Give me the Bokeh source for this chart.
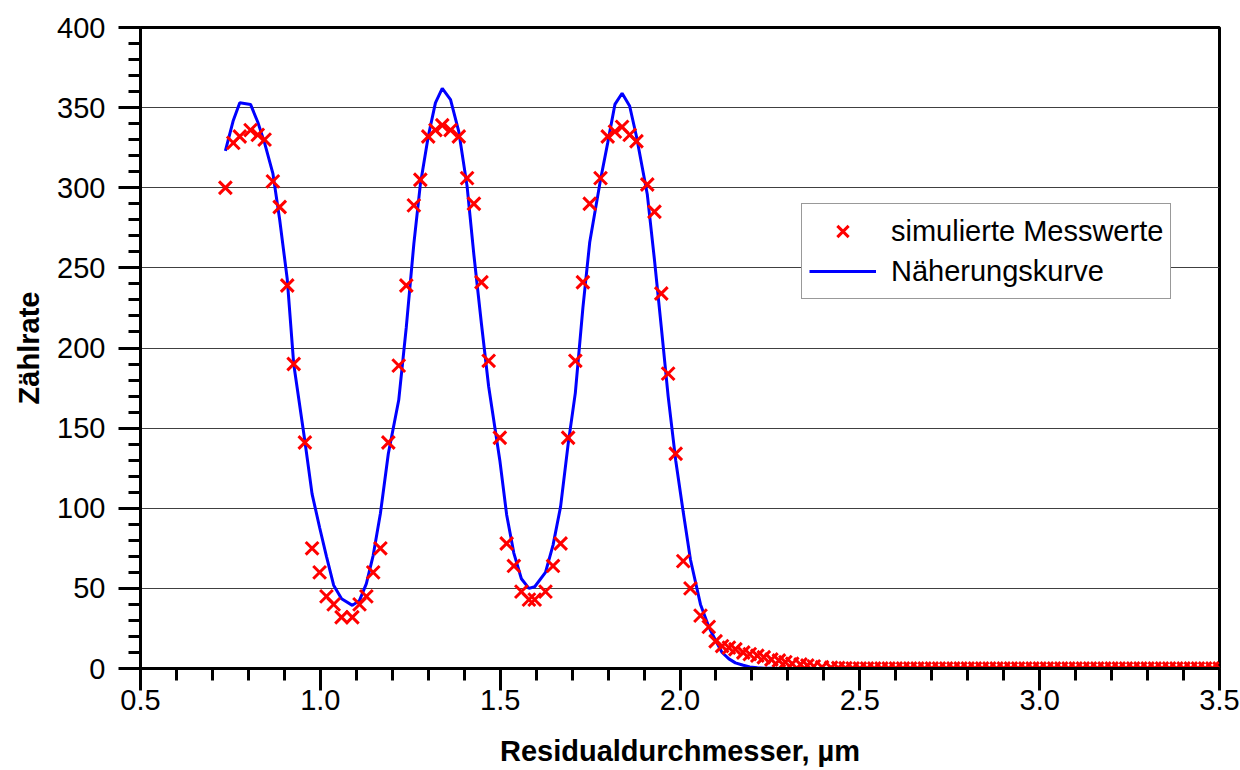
from bokeh.plotting import figure
from bokeh.models import (Range1d, SingleIntervalTicker, PrintfTickFormatter,
                          Legend, LegendItem, ColumnDataSource)
from bokeh.embed import file_html
from bokeh.resources import INLINE

# ---------------- data ----------------
diameter_head = [0.736, 0.758, 0.776, 0.806, 0.826, 0.845, 0.868, 0.887, 0.908, 0.926,
                 0.957, 0.977, 0.998, 1.017, 1.037, 1.059, 1.089, 1.109, 1.128, 1.147, 1.167,
                 1.189, 1.218, 1.239, 1.260, 1.278, 1.300, 1.320, 1.339, 1.362, 1.385, 1.408,
                 1.427, 1.448, 1.468,
                 1.499, 1.518, 1.538, 1.559, 1.580, 1.596, 1.626, 1.647, 1.668,
                 1.689, 1.709, 1.730, 1.749, 1.779, 1.799, 1.819, 1.839, 1.860, 1.879,
                 1.909, 1.929, 1.948, 1.967, 1.988,
                 2.009, 2.029, 2.057, 2.080, 2.099, 2.117, 2.136, 2.154, 2.176, 2.194,
                 2.215, 2.233, 2.254, 2.275, 2.293, 2.312, 2.335, 2.354, 2.372, 2.395]

diameter_tail = [2.42, 2.44, 2.46, 2.48, 2.50, 2.52, 2.54, 2.56, 2.58, 2.60,
                 2.62, 2.64, 2.66, 2.68, 2.70, 2.72, 2.74, 2.76, 2.78, 2.80,
                 2.82, 2.84, 2.86, 2.88, 2.90, 2.92, 2.94, 2.96, 2.98, 3.00,
                 3.02, 3.04, 3.06, 3.08, 3.10, 3.12, 3.14, 3.16, 3.18, 3.20,
                 3.22, 3.24, 3.26, 3.28, 3.30, 3.32, 3.34, 3.36, 3.38, 3.40,
                 3.42, 3.44, 3.46, 3.48, 3.50]

counts_sim_head = [300, 328, 332, 336, 333, 330, 304, 288, 239, 190,
                   141, 75, 60, 45, 40, 32, 32, 40, 45, 60, 75,
                   141, 189, 239, 289, 305, 332, 336, 339, 336, 332, 306, 290, 241, 192,
                   144, 78, 64, 48, 43, 43, 48, 64, 78,
                   144, 192, 241, 290, 306, 332, 335, 338, 333, 329, 302, 285, 234, 184, 134,
                   67, 50, 33, 26, 17, 14, 13, 12, 10, 9, 8, 7, 5.6, 5, 4, 3, 2.5, 1.9, 1.3, 0.8]

counts_sim_tail = [0.5, 0.3, 0.2, 0.1, 0, 0, 0, 0, 0, 0,
                   0, 0, 0, 0, 0, 0, 0, 0, 0, 0,
                   0, 0, 0, 0, 0, 0, 0, 0, 0, 0,
                   0, 0, 0, 0, 0, 0, 0, 0, 0, 0,
                   0, 0, 0, 0, 0, 0, 0, 0, 0, 0,
                   0, 0, 0, 0, 0]

counts_fit_head = [323, 342, 353, 352, 341, 328, 309, 280, 243, 190,
                   142, 109, 88, 70, 52, 43.5, 39.4, 42.5, 53, 70.6, 96.7,
                   134, 167.5, 213, 265, 302, 332, 353, 362, 355, 335, 301, 258, 215, 176,
                   130, 96, 72, 56, 50, 51, 60, 77, 101,
                   140, 172, 225, 266, 305, 328, 352, 359, 351, 332, 296, 255, 213, 170, 130,
                   97.6, 68, 40, 26, 17.5, 10, 6, 3.5, 2, 1, 0.4, 0.2, 0.1, 0, 0, 0, 0, 0, 0, 0]

counts_fit_tail = [0, 0, 0, 0, 0, 0, 0, 0, 0, 0,
                   0, 0, 0, 0, 0, 0, 0, 0, 0, 0,
                   0, 0, 0, 0, 0, 0, 0, 0, 0, 0,
                   0, 0, 0, 0, 0, 0, 0, 0, 0, 0,
                   0, 0, 0, 0, 0, 0, 0, 0, 0, 0,
                   0, 0, 0, 0, 0]

x_label = "Residualdurchmesser, µm"
y_label = "Zählrate"
legend_labels = ["simulierte Messwerte", "Näherungskurve"]

source = ColumnDataSource(data=dict(
    d=diameter_head + diameter_tail,
    sim=counts_sim_head + counts_sim_tail,
    fit=counts_fit_head + counts_fit_tail,
))

FONT = "Liberation Sans"
FS = "29px"

p = figure(width=1240, height=770, output_backend="svg", toolbar_location=None,
           x_range=Range1d(0.5, 3.5), y_range=Range1d(0, 400),
           min_border_left=140, min_border_right=21, min_border_top=27,
           min_border_bottom=102)
p.background_fill_color = "white"
p.border_fill_color = "white"
p.outline_line_color = "black"
p.outline_line_width = 3

p.xgrid.visible = False
p.ygrid.grid_line_color = "#404040"
p.ygrid.grid_line_width = 1

p.xaxis.ticker = SingleIntervalTicker(interval=0.5, num_minor_ticks=5)
p.xaxis.formatter = PrintfTickFormatter(format="%.1f")
p.yaxis.ticker = SingleIntervalTicker(interval=50, num_minor_ticks=5)

for ax in (p.xaxis[0], p.yaxis[0]):
    ax.axis_line_width = 3
    ax.axis_line_color = "black"
    ax.major_tick_out = 22
    ax.major_tick_in = 0
    ax.minor_tick_out = 12
    ax.minor_tick_in = 0
    ax.major_tick_line_width = 3
    ax.minor_tick_line_width = 3
    ax.major_tick_line_color = "black"
    ax.minor_tick_line_color = "black"
    ax.major_label_text_font = FONT
    ax.major_label_text_font_size = FS
    ax.major_label_text_color = "black"
    ax.axis_label_text_font = FONT
    ax.axis_label_text_font_size = FS
    ax.axis_label_text_font_style = "bold"
    ax.axis_label_text_color = "black"

p.xaxis.axis_label = x_label
p.yaxis.axis_label = y_label
p.xaxis.major_label_standoff = -1
p.yaxis.major_label_standoff = 13
p.xaxis.axis_label_standoff = 22
p.yaxis.axis_label_standoff = 9

fit_r = p.line("d", "fit", source=source, line_color="#0000FF", line_width=3)
sim_r = p.scatter("d", "sim", source=source, marker="x", size=18,
                  line_color="#FF0000", line_width=3)

legend = Legend(items=[LegendItem(label=legend_labels[0], renderers=[sim_r]),
                       LegendItem(label=legend_labels[1], renderers=[fit_r])],
                location=(661, 369))
legend.border_line_color = "#333333"
legend.border_line_width = 1
legend.background_fill_color = "white"
legend.background_fill_alpha = 1.0
legend.padding = 7
legend.spacing = 0
legend.margin = 0
legend.glyph_width = 67
legend.glyph_height = 40
legend.label_height = 40
legend.label_width = 272
legend.label_standoff = 15
legend.label_text_font = FONT
legend.label_text_font_size = FS
legend.label_text_color = "black"
p.add_layout(legend)

open("out.html", "w").write(file_html(p, INLINE))
